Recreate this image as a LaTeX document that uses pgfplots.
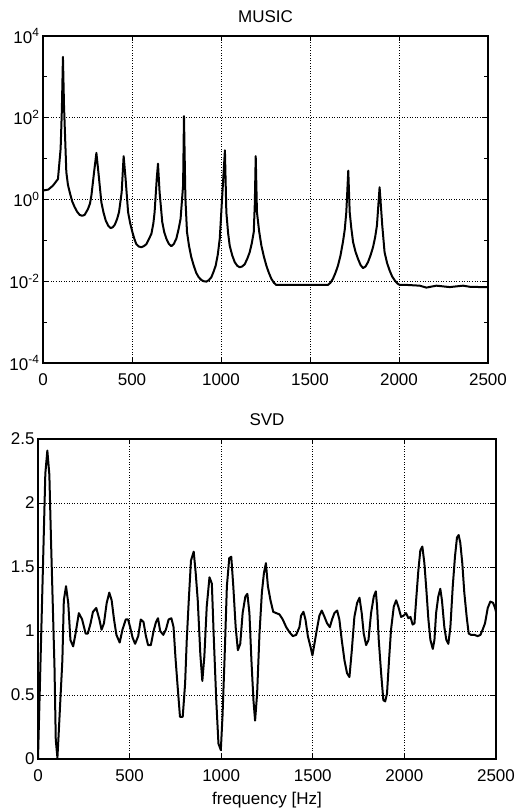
\documentclass[border=0pt]{standalone}
\usepackage{fontspec}
\setmainfont{Liberation Sans}
\usepackage{pgfplots}
\pgfplotsset{compat=1.18}

\begin{document}
\begin{tikzpicture}
\useasboundingbox (0,0) rectangle (516pt,-809pt);
\pgfplotsset{
  every axis/.append style={
    scale only axis,
    font=\fontsize{17}{20}\selectfont,
    axis line style={line width=2pt},
    tick align=inside,
    major tick length=5pt, minor tick length=4pt,
    tick style={black, line width=1pt},
    grid=major,
    grid style={black, line width=1pt, dash pattern=on 1pt off 1.6pt},
    xmin=0, xmax=2500,
    xtick={0,500,1000,1500,2000,2500},
    /pgf/number format/assume math mode=true,
    /pgf/number format/set thousands separator={},
    xticklabel style={yshift=-7pt},
    title style={font=\fontsize{17}{20}\selectfont, yshift=4pt},
  },
  curve/.style={black, mark=none, line width=2pt, line join=round},
}

% MUSIC pseudospectrum
\begin{axis}[
  at={(43pt,-363pt)}, anchor=south west,
  width=445pt, height=327pt,
  ymode=log, ymin=1e-4, ymax=1e4,
  ytick={1e-4,1e-2,1,1e2,1e4},
  yticklabels={10\textsuperscript{-4},10\textsuperscript{-2},10\textsuperscript{0},10\textsuperscript{2},10\textsuperscript{4}},
  minor ytick={1e-3,1e-1,1e1,1e3},
  title={MUSIC},
]
\addplot[curve] coordinates {
  (0,1.66)(30,1.75)(56,2.19)(84,3.16)(99,17.4)(106,158)(112,3090)(118,200)
  (122,63)(131,4.7)(140,2.3)(150,1.51)(164,0.9)(178,0.65)(192,0.5)(206,0.42)
  (220,0.40)(234,0.42)(253,0.59)(264,0.8)
  (272,1.26)(287,4.7)(300,13.8)(313,3.9)(328,0.85)(340,0.48)(352,0.31)(366,0.23)(380,0.20)
  (392,0.21)(403,0.24)(416,0.33)(427,0.49)(442,1.51)(453,11.5)(464,3.2)(478,0.49)(490,0.26)(502,0.16)
  (513,0.11)(524,0.081)(538,0.071)(552,0.068)(566,0.072)(581,0.081)(596,0.11)(609,0.145)(620,0.26)(627,0.49)(639,3.2)(646,7.5)
  (655,1.51)(670,0.28)(681,0.16)(693,0.11)(707,0.082)(721,0.072)(735,0.082)(749,0.11)(762,0.19)(773,0.34)(787,2.2)
  (792,110)(800,1.05)(809,0.16)(820,0.075)(833,0.039)(847,0.024)(861,0.016)(875,0.0125)(890,0.0107)(904,0.0100)
  (918,0.0098)(932,0.0107)(946,0.0126)(958,0.017)(970,0.024)(982,0.045)(993,0.11)(1006,1.05)(1022,16)
  (1030,0.49)(1040,0.15)(1049,0.074)(1063,0.043)(1077,0.0295)(1091,0.024)(1105,0.022)(1119,0.023)(1133,0.026)(1147,0.035)(1161,0.051)
  (1173,0.085)(1184,0.16)(1190,0.8)(1195,11.5)(1202,0.49)(1214,0.17)(1227,0.074)(1241,0.040)(1255,0.024)(1269,0.016)
  (1283,0.0115)(1297,0.0092)(1311,0.0081)(1600,0.0081)(1615,0.0092)(1629,0.0115)(1643,0.016)(1657,0.024)(1671,0.042)
  (1685,0.091)(1695,0.18)(1704,0.49)(1715,5.1)(1723,0.49)(1732,0.2)(1742,0.091)(1756,0.052)(1770,0.035)(1784,0.025)
  (1798,0.021)(1812,0.023)(1826,0.0295)(1840,0.043)(1854,0.068)(1866,0.12)(1876,0.23)(1891,2.0)(1906,0.23)
  (1919,0.051)(1933,0.028)(1948,0.018)(1962,0.013)(1976,0.0105)(1990,0.0089)(2004,0.0081)(2050,0.0081)
  (2116,0.0078)(2154,0.0070)(2210,0.0078)(2285,0.0072)(2360,0.0078)
  (2400,0.0073)(2472,0.0072)(2500,0.0072)
};
\end{axis}

% SVD spectrum
\begin{axis}[
  at={(38pt,-759pt)}, anchor=south west,
  width=458pt, height=320pt,
  ymin=0, ymax=2.5,
  ytick={0,0.5,1,1.5,2,2.5},
  title={SVD},
  xlabel={frequency [Hz]},
  xlabel style={yshift=-4pt},
]
\addplot[curve] coordinates {
  (0,0)(13,0.72)(27,1.5)(40,2.23)(51,2.41)(62,2.22)(71,1.71)(80,1.24)
  (90,0.72)(97,0.15)(106,0.01)(113,0.2)(122,0.46)(133,0.77)(141,1.24)
  (153,1.35)(165,1.22)(177,0.93)(192,0.88)(205,0.98)(223,1.14)(241,1.09)
  (260,0.98)(272,0.98)(287,1.06)(300,1.15)(318,1.18)(335,1.09)(347,1.01)
  (360,1.06)(375,1.22)(389,1.30)(402,1.24)(415,1.09)(428,0.97)(446,0.91)
  (461,1.01)(479,1.09)(492,1.09)(503,1.03)(516,0.95)(530,0.90)(547,0.96)
  (561,1.09)(576,1.07)(589,0.96)(601,0.89)(616,0.89)(631,1.0)(644,1.07)
  (655,1.10)(667,1.0)(684,0.97)(698,1.01)(713,1.09)(728,1.10)(740,1.03)
  (750,0.80)(762,0.57)(775,0.33)(790,0.33)(803,0.59)(812,0.93)(823,1.24)
  (835,1.55)(850,1.62)(861,1.45)(872,1.24)(886,0.82)(897,0.61)(908,0.80)
  (921,1.19)(936,1.42)(949,1.37)(960,0.93)(973,0.46)(985,0.12)(998,0.07)
  (1007,0.33)(1018,0.77)(1031,1.35)(1044,1.57)(1055,1.58)(1066,1.35)
  (1079,1.03)(1091,0.85)(1104,0.90)(1117,1.14)(1132,1.27)(1143,1.29)
  (1154,1.14)(1165,0.77)(1176,0.46)(1185,0.30)(1196,0.51)(1209,0.98)
  (1222,1.30)(1233,1.45)(1244,1.53)(1255,1.35)(1269,1.24)(1284,1.15)
  (1300,1.14)(1318,1.13)(1336,1.09)(1355,1.03)(1373,0.99)(1391,0.96)
  (1409,0.97)(1427,1.03)(1436,1.12)(1449,1.15)(1460,1.09)(1473,0.96)
  (1487,0.88)(1498,0.81)(1509,0.90)(1522,1.01)(1536,1.12)(1549,1.16)
  (1564,1.11)(1578,1.06)(1593,1.03)(1605,1.09)(1618,1.14)(1633,1.16)
  (1645,1.09)(1658,0.93)(1673,0.77)(1687,0.67)(1700,0.64)(1713,0.85)
  (1727,1.11)(1742,1.22)(1755,1.26)(1767,1.14)(1778,0.98)(1791,0.89)
  (1804,0.93)(1818,1.14)(1833,1.27)(1844,1.31)(1851,1.19)(1860,0.93)
  (1873,0.67)(1885,0.46)(1895,0.45)(1905,0.51)(1916,0.77)(1927,1.01)
  (1942,1.19)(1955,1.24)(1967,1.19)(1982,1.11)(1996,1.12)(2009,1.14)
  (2022,1.10)(2033,1.11)(2045,1.05)(2055,1.06)(2064,1.24)(2076,1.47)
  (2087,1.63)(2098,1.66)(2109,1.53)(2120,1.32)(2131,1.09)(2142,0.93)
  (2155,0.86)(2164,0.93)(2173,1.14)(2185,1.27)(2196,1.33)(2205,1.24)
  (2218,1.03)(2229,0.93)(2240,0.90)(2251,1.03)(2264,1.35)(2276,1.58)
  (2287,1.73)(2296,1.75)(2305,1.69)(2316,1.53)(2327,1.30)(2340,1.11)
  (2351,0.98)(2364,0.97)(2382,0.97)(2400,0.96)(2415,0.97)(2427,1.01)
  (2440,1.06)(2455,1.18)(2469,1.23)(2484,1.22)(2495,1.18)(2500,1.15)
};
\end{axis}
\end{tikzpicture}
\end{document}
